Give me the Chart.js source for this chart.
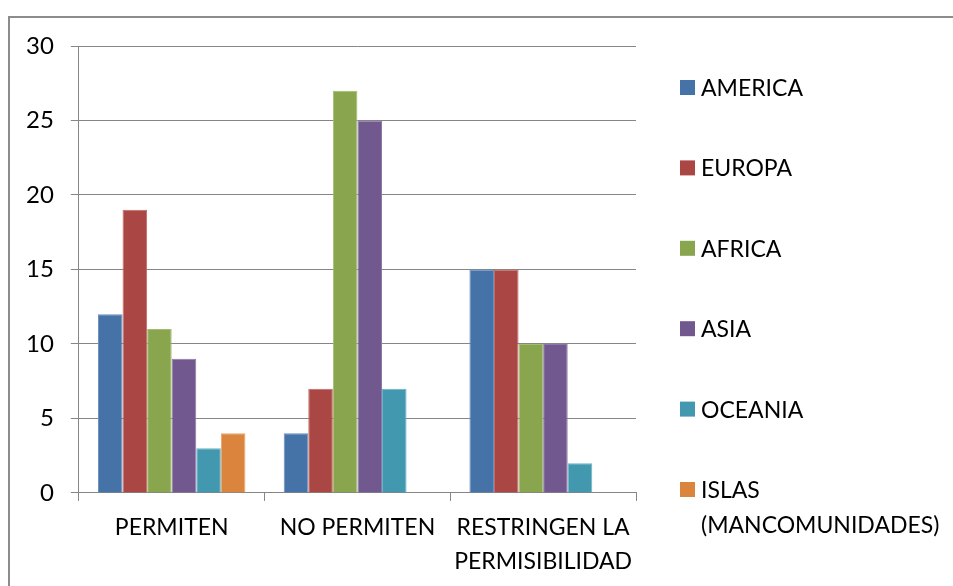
<!DOCTYPE html>
<html>
<head>
<meta charset="utf-8">
<script src="https://cdn.jsdelivr.net/npm/chart.js@4/dist/chart.umd.min.js"></script>
<style>
  html,body{margin:0;padding:0;background:#fff;}
  #wrap{position:relative;width:953px;height:586px;overflow:hidden;}
  #frame{position:absolute;left:8px;top:16px;width:1000px;height:700px;border:2px solid #8c8c8c;box-sizing:border-box;}
  canvas{position:absolute;left:0;top:0;}
</style>
</head>
<body>
<div id="wrap">
  <div id="frame"></div>
  <canvas id="ch" width="953" height="586"></canvas>
</div>
<script>
// categories / series
const categories = ['PERMITEN', 'NO PERMITEN', ['RESTRINGEN LA', 'PERMISIBILIDAD']];
const series = ['AMERICA', 'EUROPA', 'AFRICA', 'ASIA', 'OCEANIA', 'ISLAS\n(MANCOMUNIDADES)'];
const america  = [12, 4, 15];
const europa   = [19, 7, 15];
const africa   = [11, 27, 10];
const asia     = [9, 25, 10];
const oceania  = [3, 7, 2];
const islas    = [4, 0, 0];
const yTicks   = [0, 5, 10, 15, 20, 25, 30];

const colors  = ['#4572A7', '#AA4643', '#89A54E', '#71588F', '#4198AF', '#DB843D'];
const borders = ['#6a8fbf', '#c26a67', '#a3bd6e', '#8d78a8', '#6bb3c6', '#e8a068'];
const FAMILY = 'Lato, "Open Sans", sans-serif';

const values = [america, europa, africa, asia, oceania, islas];

// legend drawn on the right, one row per series
const sideLegend = {
  id:'sideLegend',
  afterDraw(chart){
    const ctx = chart.ctx;
    ctx.save();
    ctx.font = '23px ' + FAMILY;
    ctx.textBaseline = 'middle';
    chart.data.datasets.forEach((ds, i) => {
      const cy = 87.5 + i * 80.4;
      ctx.fillStyle = ds.backgroundColor;
      ctx.fillRect(680, cy - 7.5, 15, 15);
      ctx.fillStyle = '#000';
      ds.label.split('\n').forEach((ln, j) => ctx.fillText(ln, 701, cy + 1 + j * 35));
    });
    ctx.restore();
  }
};

new Chart(document.getElementById('ch'), {
  type:'bar',
  data:{
    labels:categories,
    datasets:series.map((s, i) => ({
      label:s,
      data:values[i],
      backgroundColor:colors[i],
      borderColor:borders[i],
      borderWidth:1,
      categoryPercentage:0.794,
      barPercentage:1
    }))
  },
  options:{
    responsive:false,
    animation:false,
    layout:{padding:{left:9, right:317, top:46, bottom:-3}},
    plugins:{legend:{display:false}, tooltip:{enabled:false}},
    scales:{
      x:{
        grid:{display:true, drawOnChartArea:false, color:'#868686', tickLength:8, offset:true},
        border:{color:'#868686', width:1},
        ticks:{font:{family:FAMILY, size:23, lineHeight:1.48}, color:'#000', padding:10, maxRotation:0, autoSkip:false}
      },
      y:{
        min:0, max:30,
        afterBuildTicks(axis){ axis.ticks = yTicks.map(v => ({value:v})); },
        grid:{color:'#868686', tickLength:8},
        border:{color:'#868686', width:1},
        ticks:{font:{family:FAMILY, size:24}, color:'#000', padding:17}
      }
    }
  },
  plugins:[sideLegend]
});
</script>
</body>
</html>
